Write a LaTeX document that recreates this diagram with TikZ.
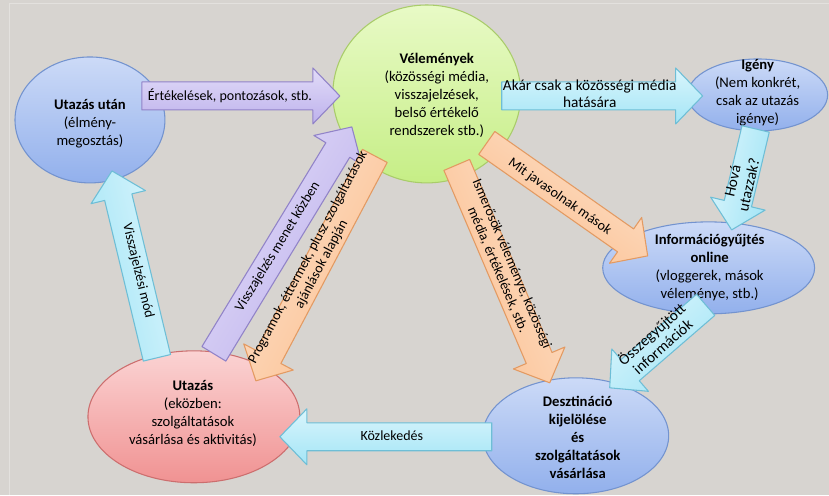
\documentclass[tikz,border=0pt]{standalone}
\usepackage{fontspec}
\setmainfont{Carlito}
\usepackage{tikz}
\usetikzlibrary{calc,shapes.geometric}
\definecolor{slidebg}{HTML}{D7D4D0}
\definecolor{blueln}{HTML}{7393CF}
\definecolor{bluetop}{HTML}{CCDAF7}
\definecolor{bluebot}{HTML}{92B0EC}
\definecolor{greenln}{HTML}{A9CC6A}
\definecolor{greentop}{HTML}{E8FAC6}
\definecolor{greenbot}{HTML}{C6EE86}
\definecolor{redln}{HTML}{CC6E6E}
\definecolor{redtop}{HTML}{FBD3D3}
\definecolor{redbot}{HTML}{F09292}
\definecolor{purpln}{HTML}{9183C8}
\definecolor{purptop}{HTML}{E2DCF8}
\definecolor{purpbot}{HTML}{BDB1EC}
\definecolor{cyanln}{HTML}{6EBED6}
\definecolor{cyantop}{HTML}{DAF5FC}
\definecolor{cyanbot}{HTML}{A3E5F6}
\definecolor{orln}{HTML}{E39A62}
\definecolor{ortop}{HTML}{FEE0C8}
\definecolor{orbot}{HTML}{FABF90}

% fat arrow from tail #2 to tip #3
\newcommand{\blockarrow}[3]{%
  \coordinate (#3-h) at ($(#3)!20.25pt!(#2)$);
  \draw[#1] ($(#2)!10.5pt!90:(#3)$) -- ($(#3-h)!10.5pt!90:(#3)$)
    -- ($(#3-h)!21pt!90:(#3)$) -- (#3)
    -- ($(#3-h)!21pt!-90:(#3)$) -- ($(#3-h)!10.5pt!-90:(#3)$)
    -- ($(#2)!10.5pt!-90:(#3)$) -- cycle;}

\begin{document}
\begin{tikzpicture}[
    x=0.75pt,y=-0.75pt,
    every node/.style={font=\fontsize{11}{13.5}\selectfont,align=center},
    blueell/.style={ellipse,draw=blueln,line width=0.8pt,inner sep=0pt,
                    top color=bluetop,bottom color=bluebot},
    greenell/.style={ellipse,draw=greenln,line width=0.8pt,inner sep=0pt,
                     top color=greentop,bottom color=greenbot},
    redell/.style={ellipse,draw=redln,line width=0.8pt,inner sep=0pt,
                   top color=redtop,bottom color=redbot},
    purparr/.style={draw=purpln,line width=0.8pt,line join=round,
                    top color=purptop,bottom color=purpbot},
    cyanarr/.style={draw=cyanln,line width=0.8pt,line join=round,
                    top color=cyantop,bottom color=cyanbot},
    orarr/.style={draw=orln,line width=0.8pt,line join=round,
                  top color=ortop,bottom color=orbot},
    lbl/.style={font=\fontsize{10.5}{11.5}\selectfont},
    biglbl/.style={font=\fontsize{11.5}{12.5}\selectfont},
  ]
  % background
  \fill[slidebg] (0,0) rectangle (829,495);
  \draw[white!30!slidebg,line width=0.6pt] (9,495) -- (9,3) -- (829,3);

  % ellipses
  \node[blueell,minimum width=112.5pt,minimum height=94.5pt] (utan) at (90,120) {};
  \node (utan-t) at (90,124) {\textbf{Utazás után}\\(élmény-\\megosztás)};

  \node[greenell,minimum width=141pt,minimum height=133.5pt] (vel) at (427,94) {};
  \node (vel-t) at (437,95) {\textbf{Vélemények}\\(közösségi média,\\visszajelzések,\\belső értékelő\\rendszerek stb.)};

  \node[blueell,minimum width=105pt,minimum height=54pt] (igeny) at (758,95) {};
  \node (igeny-t) at (758,93) {\textbf{Igény}\\(Nem konkrét,\\csak az utazás\\igénye)};

  \node[blueell,minimum width=159pt,minimum height=69pt] (info) at (709,268) {};
  \node (info-t) at (710,268) {\textbf{Információgyűjtés}\\\textbf{online}\\(vloggerek, mások\\véleménye, stb.)};

  \node[blueell,minimum width=139.5pt,minimum height=87pt] (deszt) at (576,436) {};
  \node (deszt-t) at (578,438) {\textbf{Desztináció}\\\textbf{kijelölése}\\\textbf{és}\\\textbf{szolgáltatások}\\\textbf{vásárlása}};

  \node[redell,minimum width=159pt,minimum height=99pt] (utaz) at (194,417) {};
  \node (utaz-t) at (193,414) {\textbf{Utazás}\\(eközben:\\szolgáltatások\\vásárlása és aktivitás)};

  % arrow ends
  \coordinate (ert-a) at (142,96);  \coordinate (ert-b) at (340,96);
  \coordinate (akar-a) at (502,96); \coordinate (akar-b) at (703,96);
  \coordinate (hova-a) at (756,129); \coordinate (hova-b) at (732,230);
  \coordinate (ossz-a) at (706,305); \coordinate (ossz-b) at (610,388);
  \coordinate (vmod-a) at (157,358); \coordinate (vmod-b) at (112,171);
  \coordinate (kozl-a) at (492,437); \coordinate (kozl-b) at (280,437);
  \coordinate (menet-a) at (214,354); \coordinate (menet-b) at (352,127);
  \coordinate (prog-a) at (375,156); \coordinate (prog-b) at (256,381);
  \coordinate (mit-a) at (487,143); \coordinate (mit-b) at (648,256);
  \coordinate (ism-a) at (457,165); \coordinate (ism-b) at (550,383);

  % arrows
  \blockarrow{purparr}{ert-a}{ert-b}
  \blockarrow{cyanarr}{akar-a}{akar-b}
  \blockarrow{cyanarr,shading angle=77}{hova-a}{hova-b}
  \blockarrow{cyanarr,shading angle=41.7}{ossz-a}{ossz-b}
  \blockarrow{cyanarr,shading angle=-76.5}{vmod-a}{vmod-b}
  \blockarrow{cyanarr}{kozl-a}{kozl-b}
  \blockarrow{purparr,shading angle=58.4}{menet-a}{menet-b}
  \blockarrow{orarr,shading angle=62}{prog-a}{prog-b}
  \blockarrow{orarr,shading angle=-35}{mit-a}{mit-b}
  \blockarrow{orarr,shading angle=-67}{ism-a}{ism-b}

  % arrow labels
  \node[lbl] (ert-t) at (230,96) {Értékelések, pontozások, stb.};
  \node[biglbl] (akar-t) at (590,94) {Akár csak a közösségi média\\hatására};
  \node[biglbl,rotate=77] (hova-t) at (741,183) {Hová\\utazzak?};
  \node[biglbl,rotate=41.7] (ossz-t) at (657,340) {Összegyűjtött\\információk};
  \node[lbl,rotate=-76.5] (vmod-t) at (138,271) {Visszajelzési mód};
  \node[lbl] (kozl-t) at (392,436) {Közlekedés};
  \node[lbl,rotate=58.4] (menet-t) at (278,247) {Visszajelzés menet közben};
  \node[lbl,rotate=62] (prog-t) at (315,261) {Programok, éttermek, plusz szolgáltatások\\ajánlások alapján};
  \node[lbl,rotate=-35] (mit-t) at (560,197) {Mit javasolnak mások};
  \node[lbl,rotate=-67] (ism-t) at (505,267) {Ismerősök véleménye, közösségi\\média, értékelések, stb.};
\end{tikzpicture}
\end{document}
